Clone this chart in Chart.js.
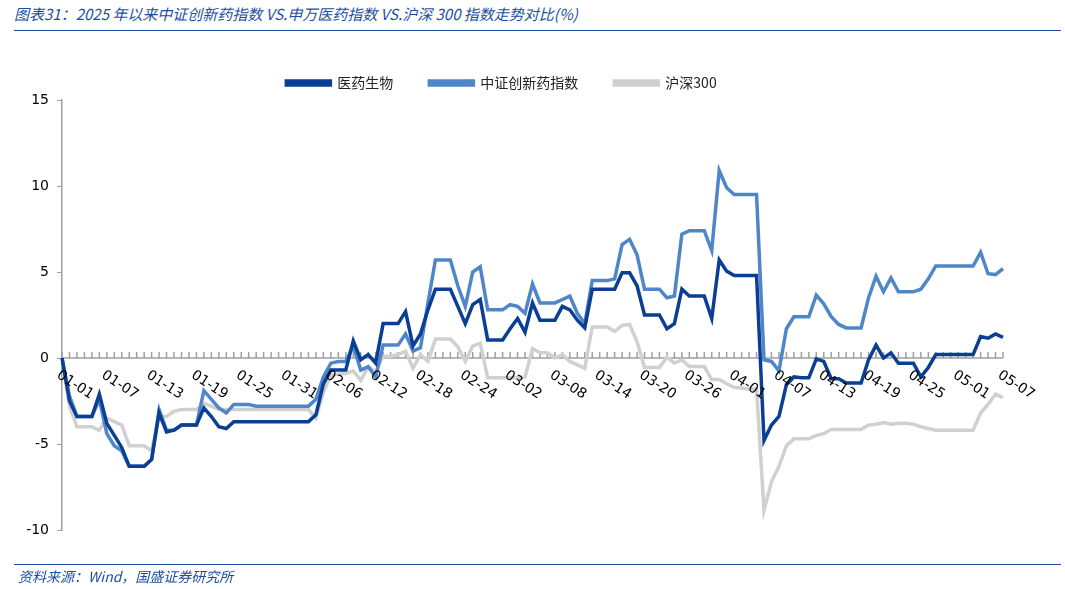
<!DOCTYPE html>
<html>
<head>
<meta charset="utf-8">
<script src="https://cdn.jsdelivr.net/npm/chart.js@4/dist/chart.umd.min.js"></script>
<style>
  body { margin: 0; width: 1065px; height: 589px; background: #fff; position: relative; overflow: hidden; font-family: "Noto Sans CJK SC", sans-serif; }
  #title { position: absolute; left: 14px; top: 3px; font-size: 15px; font-style: italic; color: #1b4f9e; }
  #topline { position: absolute; left: 14px; right: 4px; top: 30px; border-top: 1.5px solid #1b4f9e; }
  #botline { position: absolute; left: 14px; right: 4px; top: 564px; border-top: 1.5px solid #1b4f9e; }
  #source { position: absolute; left: 18px; top: 566px; font-size: 14px; font-style: italic; color: #1b4f9e; }
  #wrap { position: absolute; left: 0; top: 0; width: 1065px; height: 589px; }
</style>
</head>
<body>
<div id="title">图表31：2025 年以来中证创新药指数 VS.申万医药指数 VS.沪深 300 指数走势对比(%)</div>
<div id="topline"></div>
<div id="wrap"><canvas id="myChart" width="1065" height="589"></canvas></div>
<div id="botline"></div>
<div id="source">资料来源：Wind，国盛证券研究所</div>
<script>
// one point per calendar day, 2025-01-01 .. 2025-05-07
let seriesNames = ["医药生物", "沪深300", "中证创新药指数"];
let yTicks = [-10, -5, 0, 5, 10, 15];

let pharma = [
  0, -2.5, -3.4, -3.4, -3.4, -2.1, -3.8, -4.5, -5.2, -6.3,
  -6.3, -6.3, -5.9, -3.2, -4.3, -4.2, -3.9, -3.9, -3.9, -2.9,
  -3.4, -4.0, -4.1, -3.7, -3.7, -3.7, -3.7, -3.7, -3.7, -3.7,
  -3.7, -3.7, -3.7, -3.7, -3.3, -1.5, -0.7, -0.7, -0.7, 1.0,
  -0.1, 0.2, -0.3, 2.0, 2.0, 2.0, 2.7, 0.7, 1.4, 2.8,
  4.0, 4.0, 4.0, 3.0, 2.0, 3.1, 3.4, 1.05, 1.05, 1.05,
  1.7, 2.3, 1.5, 3.2, 2.2, 2.2, 2.2, 3.0, 2.8, 2.2,
  1.75, 4.0, 4.0, 4.0, 4.0, 4.95, 4.95, 4.2, 2.5, 2.5,
  2.5, 1.7, 2.0, 4.0, 3.6, 3.6, 3.6, 2.3, 5.7, 5.05,
  4.8, 4.8, 4.8, 4.8, -4.8, -3.9, -3.4, -1.55, -1.1, -1.15,
  -1.15, -0.05, -0.2, -1.2, -1.2, -1.45, -1.45, -1.45, -0.1, 0.75,
  0.0, 0.3, -0.3, -0.3, -0.3, -1.1, -0.55, 0.2, 0.2, 0.2,
  0.2, 0.2, 0.2, 1.25, 1.15, 1.4, 1.2
];

let hs300 = [
  0, -2.8, -4.0, -4.0, -4.0, -4.2, -3.5, -3.7, -3.9, -5.1,
  -5.1, -5.1, -5.4, -3.4, -3.4, -3.1, -3.0, -3.0, -3.0, -2.65,
  -2.8, -3.0, -3.0, -3.0, -3.0, -3.0, -3.0, -3.0, -3.0, -3.0,
  -3.0, -3.0, -3.0, -3.0, -3.5, -2.0, -1.0, -0.95, -0.9, -0.75,
  -1.3, -0.5, -0.8, 0.1, 0.1, 0.2, 0.4, -0.6, 0.2, -0.2,
  1.1, 1.1, 1.1, 0.65, -0.2, 0.7, 0.85, -1.15, -1.15, -1.15,
  -1.15, -1.15, -1.1, 0.55, 0.3, 0.3, 0.0, 0.2, -0.2, -0.4,
  -0.6, 1.8, 1.8, 1.8, 1.55, 1.9, 1.95, 0.95, -0.55, -0.55,
  -0.55, 0.05, -0.3, -0.1, -0.5, -0.5, -0.5, -1.25, -1.25, -1.5,
  -1.7, -1.75, -1.8, -1.8, -8.85, -7.2, -6.3, -5.1, -4.7, -4.7,
  -4.7, -4.5, -4.4, -4.15, -4.15, -4.15, -4.15, -4.15, -3.9, -3.85,
  -3.75, -3.85, -3.8, -3.8, -3.85, -4.0, -4.1, -4.2, -4.2, -4.2,
  -4.2, -4.2, -4.2, -3.2, -2.7, -2.1, -2.3
];

let innovDrug = [
  0, -2.2, -3.4, -3.4, -3.4, -2.4, -4.4, -5.1, -5.4, -6.3,
  -6.3, -6.3, -5.9, -3.0, -4.2, -4.2, -3.9, -3.9, -3.9, -1.9,
  -2.4, -2.9, -3.2, -2.7, -2.7, -2.7, -2.8, -2.8, -2.8, -2.8,
  -2.8, -2.8, -2.8, -2.8, -2.4, -1.1, -0.3, -0.2, -0.2, 0.7,
  -0.7, -0.5, -1.1, 0.75, 0.75, 0.75, 1.4, 0.4, 0.6, 3.2,
  5.7, 5.7, 5.7, 4.2, 3.0, 5.0, 5.3, 2.8, 2.8, 2.8,
  3.1, 3.0, 2.6, 4.3, 3.2, 3.2, 3.2, 3.4, 3.6, 2.6,
  2.0, 4.5, 4.5, 4.5, 4.6, 6.6, 6.9, 6.0, 4.0, 4.0,
  4.0, 3.5, 3.6, 7.2, 7.4, 7.4, 7.4, 6.25, 10.9, 9.9,
  9.5, 9.5, 9.5, 9.5, -0.1, -0.2, -0.75, 1.7, 2.4, 2.4,
  2.4, 3.65, 3.15, 2.4, 1.95, 1.75, 1.75, 1.75, 3.5, 4.75,
  3.85, 4.65, 3.85, 3.85, 3.85, 4.0, 4.6, 5.35, 5.35, 5.35,
  5.35, 5.35, 5.35, 6.15, 4.9, 4.85, 5.2
];

// category labels MM-DD
let days = [];
let d = new Date(Date.UTC(2025, 0, 1));
for (let i = 0; i < pharma.length; i++) {
  let mm = String(d.getUTCMonth() + 1).padStart(2, '0');
  let dd = String(d.getUTCDate()).padStart(2, '0');
  days.push(mm + '-' + dd);
  d.setUTCDate(d.getUTCDate() + 1);
}
let labelEvery = 6;

// day ticks sitting on the zero line + slanted date labels
const zeroAxis = {
  id: 'zeroAxis',
  beforeDatasetsDraw(chart) {
    const ctx = chart.ctx, x = chart.scales.x, y = chart.scales.y;
    const y0 = y.getPixelForValue(0);
    ctx.save();
    ctx.strokeStyle = '#a0a0a0';
    ctx.lineWidth = 1.5;
    ctx.beginPath();
    ctx.moveTo(x.left, y0); ctx.lineTo(x.right, y0);
    for (let i = 0; i < days.length; i++) {
      const px = x.getPixelForValue(i);
      ctx.moveTo(px, y0); ctx.lineTo(px, y0 - 6);
    }
    ctx.stroke();
    ctx.restore();
  },
  afterDatasetsDraw(chart) {
    const ctx = chart.ctx, x = chart.scales.x, y = chart.scales.y;
    const y0 = y.getPixelForValue(0);
    ctx.save();
    ctx.fillStyle = '#000';
    ctx.font = '14px "DejaVu Sans"';
    ctx.textAlign = 'left';
    ctx.textBaseline = 'middle';
    for (let i = 0; i < days.length; i += labelEvery) {
      const px = x.getPixelForValue(i);
      ctx.save();
      ctx.translate(px - 4, y0 + 16);
      ctx.rotate(33 * Math.PI / 180);
      ctx.fillText(days[i], 0, 0);
      ctx.restore();
    }
    ctx.restore();
  }
};

new Chart("myChart", {
  type: "line",
  data: {
    labels: days,
    datasets: [
      { label: seriesNames[0], data: pharma, borderColor: '#0a3f94', backgroundColor: '#0a3f94', borderWidth: 3.5, pointRadius: 0, order: 1 },
      { label: seriesNames[1], data: hs300, borderColor: '#d0d0d0', backgroundColor: '#d0d0d0', borderWidth: 3.5, pointRadius: 0, order: 3 },
      { label: seriesNames[2], data: innovDrug, borderColor: '#4e86c8', backgroundColor: '#4e86c8', borderWidth: 3.5, pointRadius: 0, order: 2 }
    ]
  },
  options: {
    responsive: false,
    animation: false,
    devicePixelRatio: 1,
    layout: { padding: { top: 40, right: 62, bottom: 51, left: 0 } },
    plugins: {
      legend: {
        labels: { boxWidth: 44, boxHeight: 4, color: '#222', font: { size: 14, family: '"Noto Sans CJK SC"' }, padding: 36 }
      },
      tooltip: { enabled: false }
    },
    scales: {
      x: {
        type: 'category',
        ticks: { display: false },
        grid: { display: false },
        border: { display: false }
      },
      y: {
        min: -10, max: 15,
        ticks: { stepSize: 5, color: '#000', font: { size: 14, family: '"DejaVu Sans"' }, padding: 8 },
        grid: { drawOnChartArea: false, tickLength: 5, color: '#a0a0a0' },
        border: { color: '#a0a0a0', width: 1.5 },
        afterFit(s) { s.width = 62; }
      }
    }
  },
  plugins: [zeroAxis]
});
</script>
</body>
</html>
